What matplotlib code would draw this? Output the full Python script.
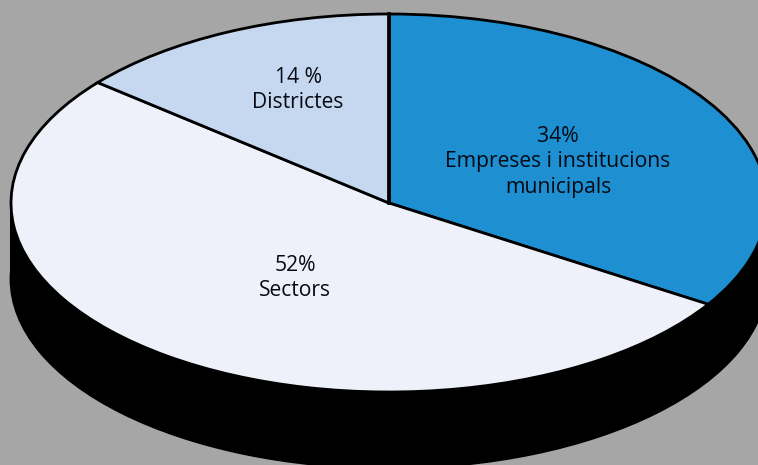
import matplotlib
matplotlib.use("Agg")
import matplotlib.pyplot as plt

categories = ["Empreses i institucions\nmunicipals", "Sectors", "Districtes"]
percent_labels = ["34%", "52%", "14 %"]
values = [34, 52, 14]
colors = ["#1E8FD0", "#EEF1F9", "#C6D8EF"]
BG = "#A6A6A6"
W, H = 758, 465
CX, CY, RX, RY = 389, 203, 378, 189
DEPTH = 76 / RY

plt.rcParams["font.family"] = ["Open Sans", "DejaVu Sans"]
fig = plt.figure(figsize=(W / 100, H / 100), dpi=100, facecolor=BG)
ax = fig.add_axes([0, 0, 1, 1])

# side of the disc
ax.pie([1], colors=["black"], center=(0, -DEPTH), radius=1,
       wedgeprops=dict(edgecolor="black", linewidth=2))
ax.bar(0, DEPTH, width=2.004, bottom=-DEPTH, color="black", linewidth=0)
# top of the disc
wedges, _ = ax.pie(values, colors=colors, startangle=90, counterclock=False,
                   radius=1, wedgeprops=dict(edgecolor="black", linewidth=2))
for w in wedges:
    w.set_zorder(3)
# the heavier radius at twelve o'clock
ax.axvline(0, ymin=(H - CY) / H, ymax=(H - CY + RY) / H, color="black", linewidth=2.6, zorder=4)

ax.set_aspect("auto")
ax.set_xlim(-CX / RX, (W - CX) / RX)
ax.set_ylim(-(H - CY) / RY, CY / RY)
ax.axis("off")

positions = [(558, 162), (295, 278), (298, 90)]
for cat, pct, (px, py) in zip(categories, percent_labels, positions):
    ax.text((px - CX) / RX, (CY - py) / RY, f"{pct}\n{cat}", ha="center", va="center",
            fontsize=15.2, color="#050A14", linespacing=1.3, zorder=5)

fig.savefig("out.png", dpi=100, facecolor=BG)
